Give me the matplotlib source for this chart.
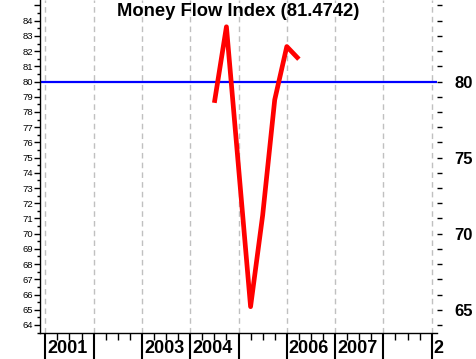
import matplotlib
matplotlib.use('Agg')
import matplotlib.pyplot as plt
import matplotlib.transforms as mtransforms
import numpy as np

# quarterly Money Flow Index values
quarters = [2004.5, 2004.75, 2005.0, 2005.25, 2005.5, 2005.75, 2006.0, 2006.25]
mfi = [78.6, 83.6, 74.4, 65.2, 71.2, 78.8, 82.3, 81.47]

years = [2001, 2002, 2003, 2004, 2005, 2006, 2007, 2008, 2009]
labeled_years = ['2001', '', '2003', '2004', '', '2006', '2007', '', '2']
level = 80
title = 'Money Flow Index (81.4742)'

plt.rcParams['font.family'] = ['Liberation Sans', 'DejaVu Sans']

fig = plt.figure(figsize=(4.76, 3.59), dpi=100)
ax = fig.add_axes([40/476, 26/359, 397/476, 333/359])

ax.set_xlim(2000.89, 2009.11)
ax.set_ylim(63.47, 85.36)

# year grid
for y in years:
    ax.axvline(y, color='#c0c0c0', lw=1, ls=(0, (4, 3)), zorder=1)

ax.axhline(level, color='#0000ff', lw=1.6, zorder=2)
ax.plot(quarters, mfi, color='#ff0000', lw=3.4, zorder=3, solid_capstyle='butt')

for s in ['top', 'right']:
    ax.spines[s].set_visible(False)
ax.spines['left'].set_linewidth(1)
ax.spines['bottom'].set_linewidth(1)

# left axis
ax.set_yticks(np.arange(64, 86, 1))
ax.set_yticklabels([str(v) if v <= 84 else '' for v in range(64, 86)], fontsize=6.8)
ax.set_yticks(np.arange(63.5, 85.5, 1), minor=True)
ax.tick_params(axis='y', which='major', length=4, width=1, pad=1)
ax.tick_params(axis='y', which='minor', length=2, width=1)

# bottom band with year separators
ax.set_xticks(years)
ax.set_xticklabels([])
ax.set_xticks([y + q for y in years[:-1] for q in (0.25, 0.5, 0.75)], minor=True)
ax.tick_params(axis='x', which='major', length=19, width=1.5, direction='out')
ax.tick_params(axis='x', which='minor', length=5, width=1, direction='out')

trans = mtransforms.blended_transform_factory(ax.transData, ax.transAxes)
for y, lab in zip(years, labeled_years):
    ax.text(y, -0.022, lab, transform=mtransforms.offset_copy(trans, fig=fig, x=2, y=0, units='dots'),
            ha='left', va='top', fontsize=13, fontweight='bold', clip_on=False)

# right axis
ax2 = ax.twinx()
ax2.set_ylim(ax.get_ylim())
for s in ax2.spines.values():
    s.set_visible(False)
ax2.set_yticks(np.arange(64, 86, 1))
ax2.set_yticklabels([str(v) if v % 5 == 0 and v < 85 else '' for v in range(64, 86)],
                    fontsize=12, fontweight='bold')
ax2.tick_params(axis='y', length=3.5, width=1, pad=9)
ax2.set_xlim(ax.get_xlim())

fig.text(238/476, 1 - 3/359, title, ha='center', va='top', fontsize=13.2, fontweight='bold')

fig.savefig('out.png', dpi=100)
